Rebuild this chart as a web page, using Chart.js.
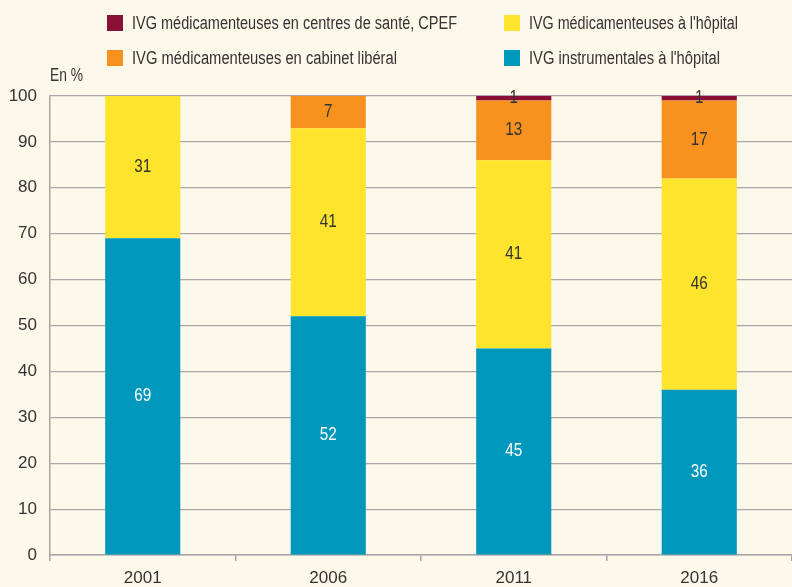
<!DOCTYPE html>
<html lang="fr">
<head>
<meta charset="utf-8">
<script src="https://cdn.jsdelivr.net/npm/chart.js@4/dist/chart.umd.min.js"></script>
<style>
  body { margin: 0; background: #fdf9ea; }
  #wrap { position: relative; width: 792px; height: 587px; font-family: 'Liberation Sans', Arial, sans-serif; color: #333; }
  canvas { position: absolute; left: 0; top: 0; }
  .leg { position: absolute; font-size: 18px; line-height: 20px; white-space: nowrap; }
  .leg span { position: absolute; left: 0; top: 0; width: 16px; height: 16px; }
  .leg b { position: absolute; left: 25px; top: -2px; font-weight: normal; transform-origin: 0 50%; }
  #unit { position: absolute; left: 50px; top: 65px; font-size: 18px; line-height: 20px; white-space: nowrap; transform-origin: 0 50%; }
</style>
</head>
<body>
<div id="wrap">
  <canvas id="chart" width="792" height="587"></canvas>
  <div id="legend"></div>
  <div id="unit">En %</div>
</div>
<script>
// Données : répartition des IVG selon la méthode et le lieu (%)
const years = ['2001', '2006', '2011', '2016'];
const instrumentales = [69, 52, 45, 36];
const medHopital = [31, 41, 41, 46];
const medCabinet = [0, 7, 13, 17];
const medCentres = [0, 0, 1, 1];
const yTicks = [0, 10, 20, 30, 40, 50, 60, 70, 80, 90, 100];

const colors = {
    instru: '#0097bd',
    hopital: '#fee42c',
    cabinet: '#f7921e',
    centres: '#8a1038'
};

// legende a deux colonnes, dans l'ordre du graphique source
// w = largeur visee du texte (police condensee dans l'original)
const legendItems = [
    { text: 'IVG médicamenteuses en centres de santé, CPEF', color: colors.centres, x: 107, y: 15, w: 325 },
    { text: "IVG médicamenteuses à l'hôpital", color: colors.hopital, x: 504, y: 15, w: 209 },
    { text: 'IVG médicamenteuses en cabinet libéral', color: colors.cabinet, x: 107, y: 50, w: 265 },
    { text: "IVG instrumentales à l'hôpital", color: colors.instru, x: 504, y: 50, w: 191 }
];
const legendDiv = document.getElementById('legend');
legendItems.forEach(item => {
    const el = document.createElement('div');
    el.className = 'leg';
    el.style.left = item.x + 'px';
    el.style.top = item.y + 'px';
    el.innerHTML = '<span style="background:' + item.color + '"></span><b>' + item.text + '</b>';
    legendDiv.appendChild(el);
    const b = el.querySelector('b');
    b.style.transform = 'scaleX(' + (item.w / b.getBoundingClientRect().width) + ')';
});
const unit = document.getElementById('unit');
unit.style.transform = 'scaleX(' + (33 / unit.getBoundingClientRect().width) + ')';

// affiche la valeur au centre de chaque segment
const valueLabels = {
    id: 'valueLabels',
    afterDatasetsDraw(chart) {
        const ctx = chart.ctx;
        ctx.save();
        ctx.font = "18px 'Liberation Sans', Arial, sans-serif";
        ctx.textAlign = 'center';
        ctx.textBaseline = 'middle';
        chart.data.datasets.forEach((ds, i) => {
            const meta = chart.getDatasetMeta(i);
            meta.data.forEach((bar, j) => {
                const v = ds.data[j];
                if (!v) return;
                const mid = (bar.y + bar.base) / 2;
                ctx.fillStyle = ds.labelColor;
                ctx.save();
                ctx.translate(bar.x, mid);
                ctx.scale(0.85, 1);
                ctx.fillText(String(v), 0, 0);
                ctx.restore();
            });
        });
        ctx.restore();
    }
};

const ctx = document.getElementById('chart').getContext('2d');
new Chart(ctx, {
    type: 'bar',
    data: {
        labels: years,
        datasets: [
            { label: "IVG instrumentales à l'hôpital", data: instrumentales, backgroundColor: colors.instru, labelColor: '#ffffff' },
            { label: "IVG médicamenteuses à l'hôpital", data: medHopital, backgroundColor: colors.hopital, labelColor: '#333333' },
            { label: 'IVG médicamenteuses en cabinet libéral', data: medCabinet, backgroundColor: colors.cabinet, labelColor: '#333333' },
            { label: 'IVG médicamenteuses en centres de santé, CPEF', data: medCentres, backgroundColor: colors.centres, labelColor: '#333333' }
        ]
    },
    options: {
        responsive: false,
        animation: false,
        layout: { padding: { top: 96, right: 0, left: 0, bottom: 0 } },
        datasets: {
            bar: { categoryPercentage: 1, barPercentage: 0.405 }
        },
        plugins: {
            legend: { display: false },
            tooltip: { enabled: false }
        },
        scales: {
            x: {
                stacked: true,
                afterFit(scale) { scale.height = 32; },
                grid: { offset: true, drawOnChartArea: false, tickLength: 6, color: '#a5a5a5', lineWidth: 1.5 },
                border: { color: '#a5a5a5', width: 1.5 },
                ticks: { color: '#333', padding: 7, font: { family: "'Liberation Sans', Arial, sans-serif", size: 17 } }
            },
            y: {
                stacked: true,
                min: 0,
                max: 100,
                afterFit(scale) { scale.width = 50; },
                afterBuildTicks(scale) { scale.ticks = yTicks.map(v => ({ value: v })); },
                grid: { drawTicks: false, color: '#a8a8a8', lineWidth: 1.2 },
                border: { color: '#a5a5a5', width: 1.5 },
                ticks: { color: '#333', padding: 13, font: { family: "'Liberation Sans', Arial, sans-serif", size: 17 } }
            }
        }
    },
    plugins: [valueLabels, {
        id: 'bg',
        beforeDraw(chart) {
            const c = chart.ctx;
            c.save();
            c.fillStyle = '#fdf9ea';
            c.fillRect(0, 0, chart.width, chart.height);
            c.restore();
        }
    }]
});
</script>
</body>
</html>
